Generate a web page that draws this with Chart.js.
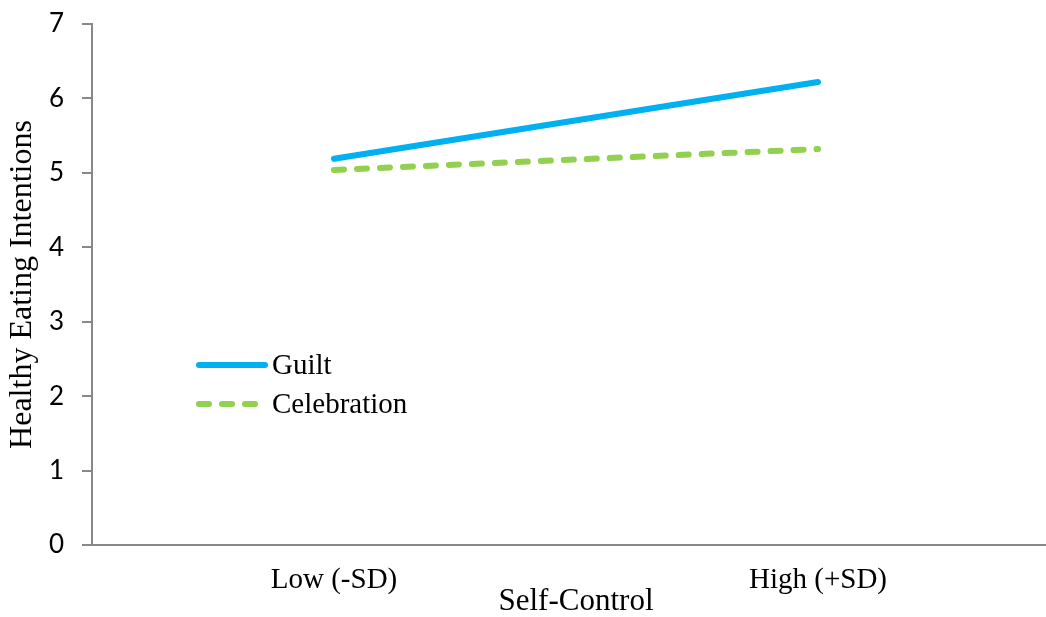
<!DOCTYPE html>
<html>
<head>
<meta charset="utf-8">
<script src="https://cdn.jsdelivr.net/npm/chart.js@4/dist/chart.umd.min.js"></script>
<style>
  html, body { margin: 0; padding: 0; background: #fff; overflow: hidden; }
  #wrap { width: 1046px; height: 617px; overflow: hidden; position: relative; }
  #box { width: 1062px; height: 617px; }
</style>
</head>
<body>
<div id="wrap"><div id="box"><canvas id="chart"></canvas></div></div>
<script>
const categories = ['Low (-SD)', 'High (+SD)'];
const guilt = [5.19, 6.22];
const celebration = [5.04, 5.32];
const yTicks = [0, 1, 2, 3, 4, 5, 6, 7];

const serif = '"Liberation Serif", "Times New Roman", serif';
const sans = 'Lato, "Open Sans", sans-serif';

// legend drawn inside the plot, Excel style
const insideLegend = {
    id: 'insideLegend',
    afterDatasetsDraw(chart) {
        const ctx = chart.ctx;
        const rows = [365, 404];
        chart.data.datasets.forEach((ds, i) => {
            const y = rows[i];
            ctx.save();
            ctx.strokeStyle = ds.borderColor;
            ctx.lineWidth = ds.borderWidth;
            ctx.lineCap = 'round';
            ctx.setLineDash(ds.borderDash || []);
            ctx.beginPath();
            ctx.moveTo(199, y);
            ctx.lineTo(265, y);
            ctx.stroke();
            ctx.setLineDash([]);
            ctx.fillStyle = '#000';
            ctx.font = '29px ' + serif;
            ctx.textBaseline = 'middle';
            ctx.fillText(ds.label, 272, y + 1);
            ctx.restore();
        });
    }
};

new Chart(document.getElementById('chart'), {
    type: 'line',
    data: {
        labels: categories,
        datasets: [
            {
                label: 'Guilt',
                data: guilt,
                borderColor: '#00B0F0',
                borderWidth: 6,
                borderCapStyle: 'round',
                pointRadius: 0,
                tension: 0
            },
            {
                label: 'Celebration',
                data: celebration,
                borderColor: '#92D050',
                borderWidth: 6,
                borderDash: [10, 13],
                borderCapStyle: 'round',
                pointRadius: 0,
                tension: 0
            }
        ]
    },
    options: {
        responsive: true,
        maintainAspectRatio: false,
        animation: false,
        layout: { padding: { top: 24, right: 2, left: 0, bottom: 0 } },
        plugins: {
            legend: { display: false },
            tooltip: { enabled: false }
        },
        scales: {
            x: {
                offset: true,
                grid: { display: false, drawTicks: false },
                border: { display: true, color: '#888', width: 2 },
                ticks: { color: '#000', padding: 18, font: { family: serif, size: 29 } },
                title: {
                    display: true,
                    text: 'Self-Control',
                    color: '#000',
                    font: { family: serif, size: 31, lineHeight: 1 },
                    padding: 0
                },
                afterFit: s => { s.height = 72; s.paddingLeft = 0; s.paddingRight = 0; }
            },
            y: {
                min: 0,
                max: 7,
                afterBuildTicks: s => { s.ticks = yTicks.map(v => ({ value: v })); },
                grid: { drawOnChartArea: false, drawTicks: true, tickLength: 10, color: '#888', lineWidth: 2 },
                border: { display: true, color: '#888', width: 2 },
                ticks: { color: '#000', padding: 18, font: { family: sans, size: 26 } },
                title: {
                    display: true,
                    text: 'Healthy Eating Intentions',
                    color: '#000',
                    font: { family: serif, size: 32, lineHeight: 1 },
                    padding: { top: 7, bottom: 0 }
                },
                afterFit: s => { s.width = 92; s.paddingTop = 0; s.paddingBottom = 0; }
            }
        }
    },
    plugins: [insideLegend]
});
</script>
</body>
</html>
